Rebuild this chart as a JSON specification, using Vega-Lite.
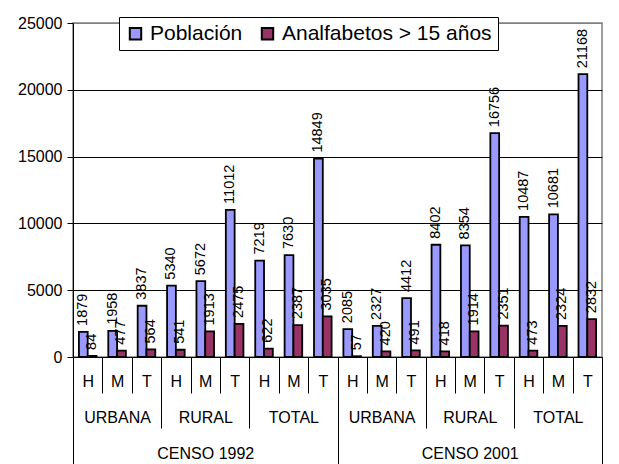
{
  "$schema": "https://vega.github.io/schema/vega-lite/v6.json",
  "autosize": "none",
  "width": 529,
  "height": 334,
  "padding": {"left": 73, "top": 23, "right": 17, "bottom": 107},
  "background": "white",
  "config": {
    "font": "Liberation Sans",
    "view": {"stroke": "#808080", "strokeWidth": 1.5}
  },
  "data": {
    "values": [
      {"cat": "1992|URBANA|H", "serie": "Población", "valor": 1879},
      {"cat": "1992|URBANA|H", "serie": "Analfabetos > 15 años", "valor": 84},
      {"cat": "1992|URBANA|M", "serie": "Población", "valor": 1958},
      {"cat": "1992|URBANA|M", "serie": "Analfabetos > 15 años", "valor": 477},
      {"cat": "1992|URBANA|T", "serie": "Población", "valor": 3837},
      {"cat": "1992|URBANA|T", "serie": "Analfabetos > 15 años", "valor": 564},
      {"cat": "1992|RURAL|H", "serie": "Población", "valor": 5340},
      {"cat": "1992|RURAL|H", "serie": "Analfabetos > 15 años", "valor": 541},
      {"cat": "1992|RURAL|M", "serie": "Población", "valor": 5672},
      {"cat": "1992|RURAL|M", "serie": "Analfabetos > 15 años", "valor": 1913},
      {"cat": "1992|RURAL|T", "serie": "Población", "valor": 11012},
      {"cat": "1992|RURAL|T", "serie": "Analfabetos > 15 años", "valor": 2475},
      {"cat": "1992|TOTAL|H", "serie": "Población", "valor": 7219},
      {"cat": "1992|TOTAL|H", "serie": "Analfabetos > 15 años", "valor": 622},
      {"cat": "1992|TOTAL|M", "serie": "Población", "valor": 7630},
      {"cat": "1992|TOTAL|M", "serie": "Analfabetos > 15 años", "valor": 2387},
      {"cat": "1992|TOTAL|T", "serie": "Población", "valor": 14849},
      {"cat": "1992|TOTAL|T", "serie": "Analfabetos > 15 años", "valor": 3035},
      {"cat": "2001|URBANA|H", "serie": "Población", "valor": 2085},
      {"cat": "2001|URBANA|H", "serie": "Analfabetos > 15 años", "valor": 57},
      {"cat": "2001|URBANA|M", "serie": "Población", "valor": 2327},
      {"cat": "2001|URBANA|M", "serie": "Analfabetos > 15 años", "valor": 420},
      {"cat": "2001|URBANA|T", "serie": "Población", "valor": 4412},
      {"cat": "2001|URBANA|T", "serie": "Analfabetos > 15 años", "valor": 491},
      {"cat": "2001|RURAL|H", "serie": "Población", "valor": 8402},
      {"cat": "2001|RURAL|H", "serie": "Analfabetos > 15 años", "valor": 418},
      {"cat": "2001|RURAL|M", "serie": "Población", "valor": 8354},
      {"cat": "2001|RURAL|M", "serie": "Analfabetos > 15 años", "valor": 1914},
      {"cat": "2001|RURAL|T", "serie": "Población", "valor": 16756},
      {"cat": "2001|RURAL|T", "serie": "Analfabetos > 15 años", "valor": 2351},
      {"cat": "2001|TOTAL|H", "serie": "Población", "valor": 10487},
      {"cat": "2001|TOTAL|H", "serie": "Analfabetos > 15 años", "valor": 473},
      {"cat": "2001|TOTAL|M", "serie": "Población", "valor": 10681},
      {"cat": "2001|TOTAL|M", "serie": "Analfabetos > 15 años", "valor": 2324},
      {"cat": "2001|TOTAL|T", "serie": "Población", "valor": 21168},
      {"cat": "2001|TOTAL|T", "serie": "Analfabetos > 15 años", "valor": 2832}
    ]
  },
  "encoding": {
    "x": {
      "field": "cat",
      "type": "nominal",
      "sort": null,
      "scale": {"paddingInner": 0, "paddingOuter": 0},
      "axis": {
        "title": null,
        "labelAngle": 0,
        "tickBand": "extent",
        "domainColor": "black",
        "tickColor": "black",
        "labelColor": "black",
        "labelFontSize": 16,
        "labelLineHeight": 36,
        "labelBaseline": "top",
        "labelAlign": "center",
        "labelOverlap": false,
        "labelBound": false,
        "labelExpr": "split(datum.value,'|')[2] == 'M' ? (split(datum.value,'|')[1] == 'RURAL' ? [split(datum.value,'|')[2], split(datum.value,'|')[1], 'CENSO ' + split(datum.value,'|')[0]] : [split(datum.value,'|')[2], split(datum.value,'|')[1]]) : split(datum.value,'|')[2]",
        "tickSize": {"expr": "(!datum.value || datum.value == '1992|TOTAL|T' || datum.value == '2001|TOTAL|T') ? 110 : (split(datum.value,'|')[2] == 'T' ? 71 : 36)"},
        "labelPadding": {"expr": "(!datum.value || datum.value == '1992|TOTAL|T' || datum.value == '2001|TOTAL|T') ? -94 : (split(datum.value,'|')[2] == 'T' ? -55 : -20)"}
      }
    },
    "xOffset": {
      "field": "serie",
      "type": "nominal",
      "sort": ["Población", "Analfabetos > 15 años"],
      "scale": {"paddingInner": 0, "paddingOuter": 0.67}
    },
    "y": {
      "field": "valor",
      "type": "quantitative",
      "scale": {"domain": [0, 25000], "nice": false},
      "axis": {
        "title": null,
        "values": [0, 5000, 10000, 15000, 20000, 25000],
        "format": "d",
        "grid": true,
        "gridColor": {"condition": {"test": "datum.value == 25000", "value": "#808080"}, "value": "black"},
        "gridOpacity": 1,
        "domainColor": "black",
        "tickColor": "black",
        "tickSize": 6,
        "labelFontSize": 16,
        "labelColor": "black",
        "labelPadding": 5
      }
    }
  },
  "layer": [
    {
      "mark": {"type": "bar", "stroke": "black", "strokeWidth": 1.8},
      "encoding": {
        "color": {
          "field": "serie",
          "type": "nominal",
          "sort": ["Población", "Analfabetos > 15 años"],
          "scale": {"domain": ["Población", "Analfabetos > 15 años"], "range": ["#9999FF", "#993366"]},
          "legend": {
            "title": null,
            "orient": "none",
            "legendX": 46,
            "legendY": -6,
            "direction": "horizontal",
            "symbolType": "square",
            "symbolSize": 130,
            "symbolStrokeColor": "black",
            "symbolStrokeWidth": 2,
            "symbolOpacity": 1,
            "labelFontSize": 21,
            "labelColor": "black",
            "labelLimit": 400,
            "fillColor": "white",
            "strokeColor": "black",
            "padding": 6,
            "columnPadding": 14
          }
        }
      }
    },
    {
      "mark": {"type": "text", "angle": 270, "align": "left", "baseline": "middle", "dx": 6, "fontSize": 14.5, "color": "black"},
      "encoding": {"text": {"field": "valor", "type": "quantitative", "format": "d"}}
    }
  ]
}
